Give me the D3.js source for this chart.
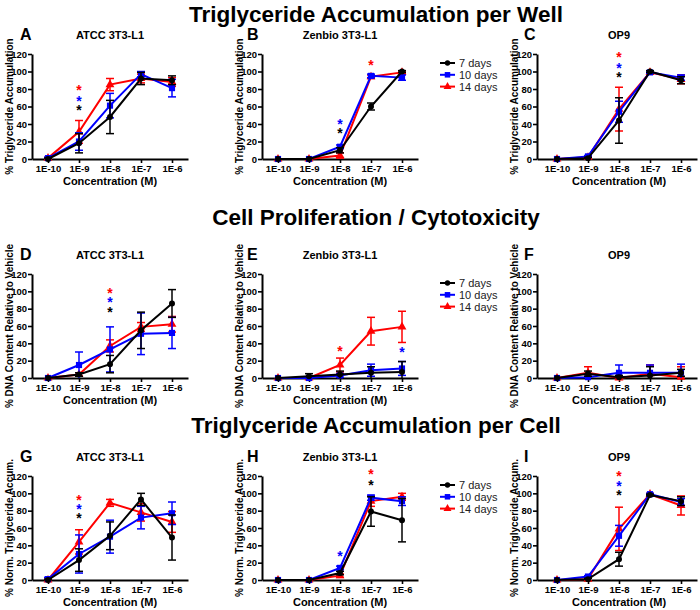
<!DOCTYPE html>
<meta charset="utf-8">
<script src="https://d3js.org/d3.v7.min.js"></script>
<style>
body { margin: 0; background: #fff; }
text { font-family: Arial, "Liberation Sans", sans-serif; }
</style>
<div id="chart"></div>
<script>
// ---- data ----
const doses = ["1E-10", "1E-9", "1E-8", "1E-7", "1E-6"];
const groups = ["7 days", "10 days", "14 days"];
const yTicks = [0, 20, 40, 60, 80, 100, 120];
const sections = ["Triglyceride Accumulation per Well", "Cell Proliferation / Cytotoxicity", "Triglyceride Accumulation per Cell"];
const cellLines = ["ATCC 3T3-L1", "Zenbio 3T3-L1", "OP9"];
const letters = ["A", "B", "C", "D", "E", "F", "G", "H", "I"];
const yLabels = ["% Triglyceride Accumulation", "% DNA Content Relative to Vehicle", "% Norm. Triglyceride Accum."];

// each panel: rows are 7, 10, 14 days
const meanA = [[0, 18, 48, 92, 90], [1, 20, 61, 97, 81], [1, 31, 85, 92, 88]];
const errA  = [[1, 11, 19, 7, 5], [1, 10, 14, 3, 10], [1, 13, 7, 5, 5]];
const starsA = [[1, 0, 60], [1, 1, 70], [1, 2, 82]];   // dose index, group index, y

const meanB = [[0, 0, 10, 60, 100], [0, 0, 14, 95, 93], [0, 0, 4, 94, 99]];
const errB  = [[0, 0, 3, 4, 1], [0, 0, 2, 2, 3], [0, 0, 3, 2, 1]];
const starsB = [[2, 0, 33], [2, 1, 44], [3, 2, 111]];

const meanC = [[0, 1, 44, 100, 90], [0, 3, 54, 99, 93], [0, 2, 57, 99, 91]];
const errC  = [[0, 1, 26, 1, 4], [0, 1, 12, 1, 3], [0, 1, 25, 1, 5]];
const starsC = [[2, 0, 97], [2, 1, 108], [2, 2, 120]];

const meanD = [[0, 4, 16, 55, 86], [0, 15, 33, 51, 52], [0, 4, 37, 59, 62]];
const errD  = [[0, 2, 10, 21, 16], [0, 15, 26, 24, 18], [0, 2, 7, 5, 9]];
const starsD = [[2, 0, 80], [2, 1, 91], [2, 2, 102]];

const meanE = [[0, 2, 4, 6, 7], [0, 0, 3, 9, 11], [0, 0, 15, 54, 59]];
const errE  = [[0, 3, 4, 7, 12], [0, 1, 2, 7, 8], [0, 1, 8, 16, 18]];
const starsE = [[2, 2, 35], [4, 1, 33]];

const meanF = [[0, 5, 1, 3, 6], [0, 1, 6, 6, 6], [0, 6, 0, 5, 1]];
const errF  = [[0, 3, 2, 10, 4], [0, 1, 9, 9, 10], [0, 7, 1, 10, 12]];
const starsF = [];

const meanG = [[0, 23, 51, 93, 49], [1, 30, 50, 72, 77], [0, 44, 89, 78, 67]];
const errG  = [[1, 13, 16, 7, 26], [2, 22, 19, 13, 13], [1, 14, 4, 10, 12]];
const starsG = [[1, 0, 75], [1, 1, 85], [1, 2, 96]];

const meanH = [[0, 0, 8, 79, 69], [0, 0, 14, 95, 91], [0, 0, 5, 91, 96]];
const errH  = [[0, 0, 2, 17, 25], [0, 0, 2, 3, 5], [0, 0, 2, 6, 4]];
const starsH = [[2, 1, 31], [3, 0, 113], [3, 2, 126]];

const meanI = [[0, 1, 24, 98, 91], [0, 4, 51, 99, 90], [0, 1, 59, 99, 86]];
const errI  = [[0, 1, 8, 1, 5], [0, 1, 12, 1, 4], [0, 1, 25, 1, 11]];
const starsI = [[2, 0, 102], [2, 1, 112], [2, 2, 124]];

const means = [meanA, meanB, meanC, meanD, meanE, meanF, meanG, meanH, meanI];
const errs = [errA, errB, errC, errD, errE, errF, errG, errH, errI];
const stars = [starsA, starsB, starsC, starsD, starsE, starsF, starsG, starsH, starsI];

// ---- layout ----
const W = 700, H = 610;
const colAxisX = [32, 262, 537];
const colFirstTick = [16, 16, 20];
const tickStep = 31;
const rowBottom = [159, 378, 580];
const rowTop = [54, 274, 476];
const sectionY = [22, 225, 433];
const colors = ["#000000", "#0000ff", "#ff0000"];
const symbols = [d3.symbolCircle, d3.symbolSquare, d3.symbolTriangle];
const symSizes = [28, 38, 34];

const svg = d3.select("#chart").append("svg")
  .attr("width", W).attr("height", H);

// section titles
svg.selectAll(".section")
  .data(sections)
  .enter().append("text")
    .attr("x", 376)
    .attr("y", (d, i) => sectionY[i])
    .attr("text-anchor", "middle")
    .style("font-size", "22.5px")
    .style("font-weight", "bold")
    .text(d => d);

for (let r = 0; r < 3; r++) {
  for (let c = 0; c < 3; c++) {
    const p = r * 3 + c;
    const ax = colAxisX[c];
    const x0 = ax + colFirstTick[c];
    const x = d3.scaleLinear()
      .domain([-colFirstTick[c] / tickStep, 4 + 16 / tickStep])
      .range([ax, x0 + 4 * tickStep + 16]);
    const y = d3.scaleLinear().domain([0, 120]).range([rowBottom[r], rowTop[r]]);
    const g = svg.append("g");

    // x axis
    const xa = g.append("g")
      .attr("transform", "translate(0," + rowBottom[r] + ")")
      .call(d3.axisBottom(x).tickValues([0, 1, 2, 3, 4]).tickFormat(i => doses[i]).tickSize(4).tickSizeOuter(0));
    // y axis
    const ya = g.append("g")
      .attr("transform", "translate(" + ax + ",0)")
      .call(d3.axisLeft(y).tickValues(yTicks).tickSize(4).tickSizeOuter(0));
    [xa, ya].forEach(a => {
      a.select(".domain").attr("stroke", "#000").attr("stroke-width", 2);
      a.selectAll(".tick line").attr("stroke", "#000").attr("stroke-width", 1.6);
      a.selectAll(".tick text")
        .style("font-family", "Arial, 'Liberation Sans', sans-serif")
        .style("font-size", "9.5px").style("font-weight", "bold").attr("fill", "#000");
    });
    xa.selectAll(".tick text").attr("dy", "0.9em").attr("y", 4);
    ya.selectAll(".tick text").attr("x", -5);

    // axis labels
    g.append("text")
      .attr("x", x(2)).attr("y", rowBottom[r] + 26)
      .attr("text-anchor", "middle")
      .style("font-size", "11px").style("font-weight", "bold")
      .text("Concentration (M)");
    g.append("text")
      .attr("transform", "translate(" + (ax - 19) + "," + ((rowBottom[r] + rowTop[r]) / 2) + ") rotate(-90)")
      .attr("text-anchor", "middle")
      .style("font-size", "10px").style("font-weight", "bold")
      .text(yLabels[r]);

    // panel title and letter
    g.append("text")
      .attr("x", x(2)).attr("y", rowTop[r] - 15)
      .attr("text-anchor", "middle")
      .style("font-size", "11px").style("font-weight", "bold")
      .text(cellLines[c]);
    g.append("text")
      .attr("x", c === 0 ? 20 : (c === 1 ? 247 : 524))
      .attr("y", rowTop[r] - 14)
      .style("font-size", "16px").style("font-weight", "bold")
      .text(letters[p]);

    // series: 14 days first, 7 days on top
    const line = d3.line().x((d, i) => x(i)).y(d => y(d));
    [2, 1, 0].forEach(s => {
      const m = means[p][s], e = errs[p][s];
      const pts = m.map((v, i) => ({ i: i, v: v, e: e[i] }));
      const sg = g.append("g");
      // error bars
      const eb = sg.selectAll(".err").data(pts.filter(d => d.e > 0)).enter().append("g");
      eb.append("line")
        .attr("x1", d => x(d.i)).attr("x2", d => x(d.i))
        .attr("y1", d => y(Math.max(0, d.v - d.e))).attr("y2", d => y(d.v + d.e))
        .attr("stroke", colors[s]).attr("stroke-width", 1.5);
      eb.append("line")
        .attr("x1", d => x(d.i) - 4).attr("x2", d => x(d.i) + 4)
        .attr("y1", d => y(d.v + d.e)).attr("y2", d => y(d.v + d.e))
        .attr("stroke", colors[s]).attr("stroke-width", 1.5);
      eb.filter(d => d.v - d.e > 0).append("line")
        .attr("x1", d => x(d.i) - 4).attr("x2", d => x(d.i) + 4)
        .attr("y1", d => y(d.v - d.e)).attr("y2", d => y(d.v - d.e))
        .attr("stroke", colors[s]).attr("stroke-width", 1.5);
      sg.append("path").datum(m)
        .attr("d", line).attr("fill", "none")
        .attr("stroke", colors[s]).attr("stroke-width", 2);
      sg.selectAll(".pt").data(pts).enter().append("path")
        .attr("transform", d => "translate(" + x(d.i) + "," + y(d.v) + ")")
        .attr("d", d3.symbol().type(symbols[s]).size(symSizes[s]))
        .attr("fill", colors[s]);
    });

    // significance stars: one text per dose, a tspan per star
    const byDose = d3.groups(stars[p], d => d[0]);
    byDose.forEach(([dose, list]) => {
      g.append("text")
        .attr("text-anchor", "middle")
        .style("font-size", "14px").style("font-weight", "bold")
        .selectAll("tspan").data(list).enter().append("tspan")
          .attr("x", d => x(d[0])).attr("y", d => y(d[2]) + 8)
          .attr("fill", d => colors[d[1]])
          .text("*");
    });

    // legend in middle column
    if (c === 1) {
      const lg = g.append("g").attr("transform", "translate(440," + (rowTop[r] + 9) + ")");
      groups.forEach((name, s) => {
        const yy = s * 11.8;
        lg.append("line").attr("x1", 0).attr("x2", 15).attr("y1", yy).attr("y2", yy)
          .attr("stroke", colors[s]).attr("stroke-width", 2);
        lg.append("path").attr("transform", "translate(7.5," + yy + ")")
          .attr("d", d3.symbol().type(symbols[s]).size(symSizes[s] * 0.8))
          .attr("fill", colors[s]);
        lg.append("text").attr("x", 19).attr("y", yy + 4)
          .style("font-size", "11px").attr("fill", "#222")
          .text(name);
      });
    }
  }
}
</script>
